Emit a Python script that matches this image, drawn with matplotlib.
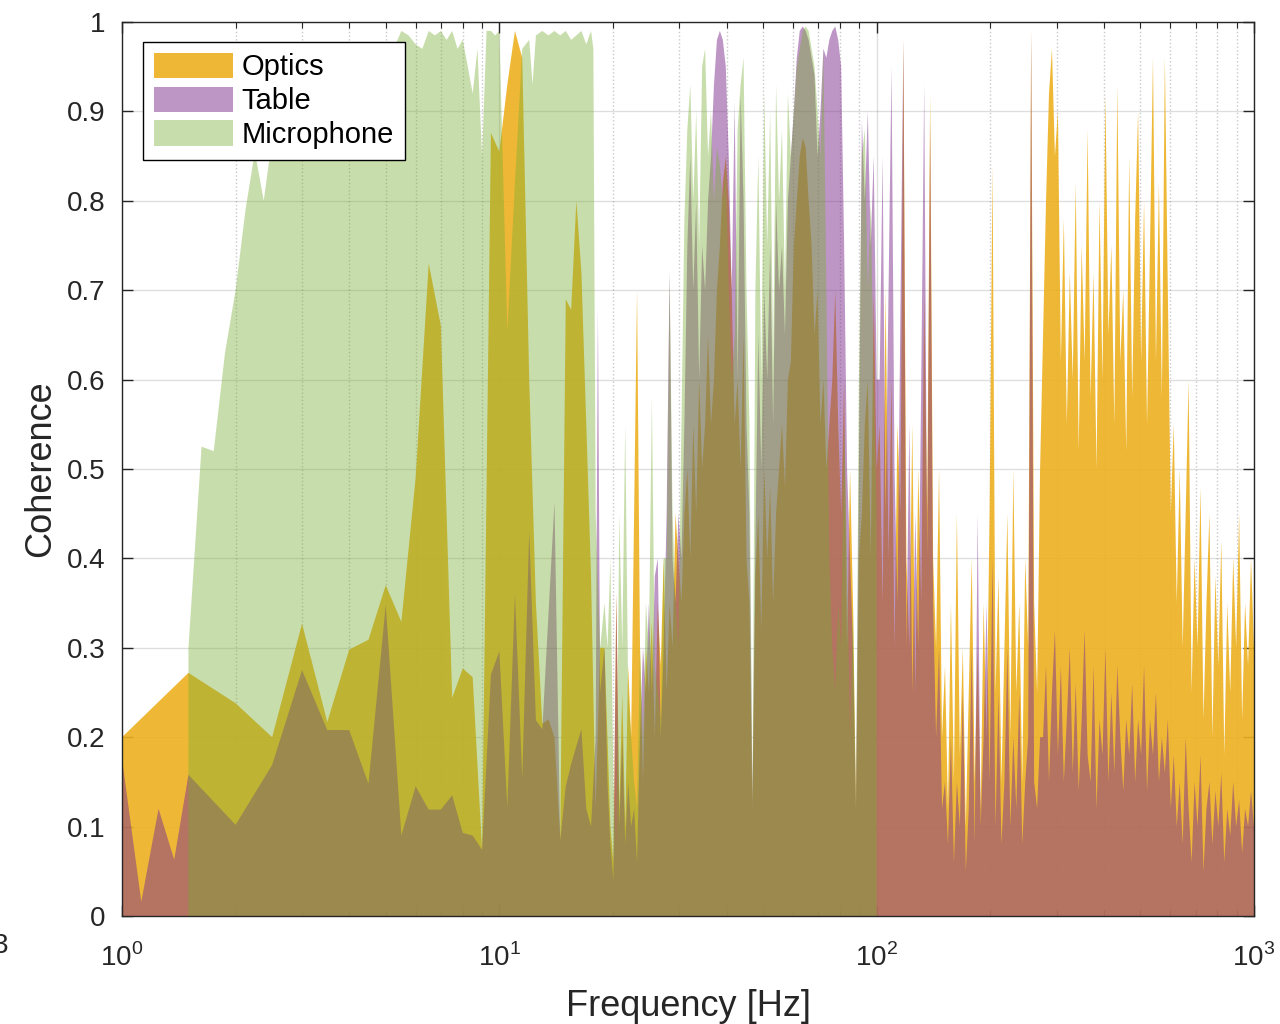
import numpy as np
import matplotlib
matplotlib.use('Agg')
import matplotlib.pyplot as plt
from matplotlib.ticker import FixedLocator, LogLocator, NullFormatter

plt.rcParams['font.family'] = ['Liberation Sans', 'DejaVu Sans']
plt.rcParams['mathtext.fontset'] = 'custom'
plt.rcParams['mathtext.rm'] = 'Liberation Sans'

# --- coherence data ---------------------------------------------------------
# low band (read vertex by vertex)
optics_lo_f = np.arange(1.0, 19.0, 0.5)
optics_lo = [0.20, 0.272, 0.238, 0.20, 0.327, 0.217, 0.298, 0.309, 0.37, 0.329,
             0.49, 0.73, 0.66, 0.244, 0.277, 0.267, 0.074, 0.876, 0.855, 0.93,
             0.99, 0.96, 0.60, 0.35, 0.215, 0.22, 0.20, 0.087, 0.69, 0.678,
             0.80, 0.72, 0.55, 0.38, 0.12, 0.30]

table_lo_f = [1.0, 1.125, 1.25, 1.375, 1.5, 2.0, 2.5, 3.0, 3.5, 4.0, 4.5, 5.0,
              5.5, 6.0, 6.5, 7.0, 7.5, 8.0, 8.5, 9.0, 9.5, 10.0, 10.5, 11.0,
              11.5, 12.0, 12.5, 13.0, 14.0, 14.5, 15.0, 15.5, 16.0, 16.5,
              17.0, 17.5, 18.0, 18.25, 18.5]
table_lo = [0.176, 0.016, 0.12, 0.063, 0.158, 0.102, 0.169, 0.275, 0.208, 0.208,
            0.148, 0.348, 0.09, 0.145, 0.119, 0.119, 0.135, 0.093, 0.09, 0.074,
            0.27, 0.296, 0.122, 0.36, 0.154, 0.43, 0.219, 0.209, 0.463, 0.084,
            0.145, 0.17, 0.19, 0.209, 0.12, 0.10, 0.20, 0.68, 0.25]

mic_lo_f = [1.5, 1.625, 1.75, 1.875, 2.0, 2.125, 2.25, 2.375, 2.5, 2.75, 3.0,
            3.5, 4.0, 4.5, 5.0, 5.25, 5.5, 5.75, 6.0, 6.25, 6.5, 6.75, 7.0,
            7.25, 7.5, 7.75, 8.0, 8.25, 8.5, 8.75, 9.0, 9.25, 9.5, 9.75, 10.0,
            10.5, 11.0, 11.5, 12.0, 12.25, 12.5, 13.0, 13.5, 14.0, 14.5, 15.0,
            15.5, 16.0, 16.5, 17.0, 17.5, 17.75, 18.0, 18.5]
mic_lo = [0.30, 0.525, 0.52, 0.63, 0.70, 0.79, 0.855, 0.80, 0.87, 0.90, 0.93,
          0.92, 0.95, 0.94, 0.96, 0.97, 0.99, 0.985, 0.975, 0.97, 0.99, 0.985,
          0.99, 0.98, 0.99, 0.97, 0.98, 0.95, 0.92, 0.97, 0.85, 0.99, 0.99,
          0.985, 0.99, 0.655, 0.82, 0.97, 0.98, 0.93, 0.985, 0.99, 0.985, 0.99,
          0.985, 0.99, 0.98, 0.985, 0.99, 0.975, 0.99, 0.97, 0.45, 0.30]

# 19-100 Hz, log spaced
freq_mid = np.geomspace(19, 100, 93)
optics_mid = [0.30, 0.20, 0.10, 0.06, 0.36, 0.12, 0.25, 0.10, 0.28, 0.20,
              0.45, 0.70, 0.30, 0.15, 0.30, 0.25, 0.33, 0.20, 0.35, 0.28,
              0.40, 0.25, 0.35, 0.30, 0.45, 0.40, 0.35, 0.45, 0.50, 0.40,
              0.55, 0.45, 0.60, 0.50, 0.55, 0.65, 0.55, 0.60, 0.70, 0.75,
              0.82, 0.85, 0.80, 0.70, 0.55, 0.60, 0.50, 0.65, 0.40, 0.35,
              0.12, 0.38, 0.45, 0.32, 0.50, 0.40, 0.48, 0.35, 0.45, 0.50,
              0.55, 0.48, 0.60, 0.62, 0.75, 0.80, 0.85, 0.87, 0.86, 0.80,
              0.75, 0.65, 0.70, 0.55, 0.60, 0.50, 0.55, 0.60, 0.70, 0.55,
              0.45, 0.60, 0.30, 0.50, 0.35, 0.12, 0.40, 0.45, 0.55, 0.60,
              0.40, 0.70, 0.50]
table_mid = [0.30, 0.15, 0.08, 0.04, 0.36, 0.10, 0.20, 0.08, 0.15, 0.10,
             0.12, 0.06, 0.20, 0.30, 0.25, 0.35, 0.25, 0.38, 0.40, 0.20,
             0.30, 0.45, 0.72, 0.40, 0.35, 0.45, 0.40, 0.55, 0.75, 0.85,
             0.70, 0.80, 0.60, 0.75, 0.70, 0.80, 0.85, 0.93, 0.98, 0.99,
             0.98, 0.95, 0.85, 0.70, 0.91, 0.60, 0.92, 0.80, 0.55, 0.45,
             0.13, 0.42, 0.65, 0.50, 0.70, 0.60, 0.75, 0.55, 0.80, 0.70,
             0.75, 0.65, 0.80, 0.85, 0.90, 0.96, 0.99, 0.995, 0.99, 0.98,
             0.96, 0.94, 0.85, 0.90, 0.97, 0.96, 0.98, 0.99, 0.995, 0.98,
             0.95, 0.75, 0.50, 0.40, 0.30, 0.12, 0.50, 0.89, 0.80, 0.90,
             0.75, 0.85, 0.60]
mic_mid = [0.35, 0.30, 0.40, 0.15, 0.08, 0.45, 0.30, 0.55, 0.25, 0.20,
           0.15, 0.12, 0.30, 0.20, 0.35, 0.30, 0.58, 0.28, 0.25, 0.22,
           0.40, 0.40, 0.72, 0.45, 0.35, 0.30, 0.55, 0.78, 0.88, 0.93,
           0.80, 0.90, 0.75, 0.95, 0.97, 0.85, 0.90, 0.80, 0.86, 0.84,
           0.80, 0.84, 0.70, 0.60, 0.65, 0.88, 0.93, 0.96, 0.70, 0.55,
           0.13, 0.70, 0.85, 0.60, 0.92, 0.75, 0.90, 0.62, 0.93, 0.80,
           0.88, 0.70, 0.92, 0.85, 0.90, 0.95, 0.97, 0.99, 0.995, 0.99,
           0.97, 0.95, 0.90, 0.85, 0.97, 0.70, 0.40, 0.30, 0.25, 0.35,
           0.30, 0.55, 0.40, 0.20, 0.35, 0.13, 0.60, 0.85, 0.88, 0.70,
           0.80, 0.60, 0.45]

# 100-1000 Hz, log spaced (microphone stops at 100 Hz)
freq_high = np.geomspace(100, 1000, 128)[1:]
optics_high = [0.55, 0.35, 0.70, 0.40, 0.60, 0.30, 0.55, 0.45, 0.98, 0.40,
               0.30, 0.55, 0.25, 0.50, 0.35, 0.70, 0.45, 0.92, 0.40, 0.30,
               0.50, 0.20, 0.28, 0.12, 0.35, 0.15, 0.45, 0.18, 0.30, 0.10,
               0.25, 0.40, 0.15, 0.30, 0.12, 0.35, 0.20, 0.45, 0.84, 0.25,
               0.38, 0.15, 0.30, 0.45, 0.20, 0.50, 0.25, 0.35, 0.15, 0.40,
               0.30, 0.99, 0.35, 0.25, 0.50, 0.65, 0.80, 0.92, 0.97, 0.85,
               0.90, 0.62, 0.78, 0.55, 0.72, 0.60, 0.82, 0.52, 0.75, 0.62,
               0.88, 0.58, 0.72, 0.50, 0.80, 0.60, 0.92, 0.65, 0.75, 0.55,
               0.93, 0.62, 0.70, 0.52, 0.85, 0.58, 0.78, 0.90, 0.62, 0.80,
               0.55, 0.75, 0.96, 0.62, 0.82, 0.58, 0.96, 0.70, 0.45, 0.55,
               0.35, 0.50, 0.30, 0.45, 0.60, 0.25, 0.40, 0.30, 0.48, 0.22,
               0.35, 0.45, 0.20, 0.38, 0.28, 0.42, 0.18, 0.35, 0.25, 0.40,
               0.30, 0.45, 0.22, 0.35, 0.28, 0.40, 0.30]
table_high = [0.60, 0.85, 0.45, 0.70, 0.95, 0.50, 0.35, 0.68, 0.98, 0.30,
              0.55, 0.25, 0.45, 0.30, 0.60, 0.93, 0.40, 0.89, 0.35, 0.20,
              0.30, 0.12, 0.15, 0.08, 0.20, 0.06, 0.15, 0.10, 0.25, 0.05,
              0.12, 0.30, 0.08, 0.45, 0.10, 0.20, 0.35, 0.15, 0.40, 0.10,
              0.25, 0.08, 0.15, 0.30, 0.10, 0.20, 0.12, 0.25, 0.08, 0.15,
              0.20, 0.99, 0.15, 0.12, 0.20, 0.20, 0.28, 0.15, 0.25, 0.32,
              0.18, 0.28, 0.15, 0.22, 0.30, 0.16, 0.26, 0.14, 0.22, 0.32,
              0.18, 0.15, 0.28, 0.12, 0.22, 0.18, 0.30, 0.15, 0.25, 0.16,
              0.28, 0.20, 0.14, 0.22, 0.18, 0.26, 0.15, 0.22, 0.18, 0.28,
              0.14, 0.22, 0.18, 0.25, 0.15, 0.20, 0.16, 0.22, 0.12, 0.18,
              0.10, 0.15, 0.08, 0.20, 0.12, 0.06, 0.15, 0.10, 0.18, 0.05,
              0.12, 0.15, 0.08, 0.14, 0.10, 0.16, 0.06, 0.12, 0.09, 0.15,
              0.10, 0.13, 0.07, 0.12, 0.10, 0.14, 0.10]

series = [
    ('Optics', np.concatenate([optics_lo_f, freq_mid, freq_high]),
     np.concatenate([optics_lo, optics_mid, optics_high]), '#EDB120', 0.9),
    ('Table', np.concatenate([table_lo_f, freq_mid, freq_high]),
     np.concatenate([table_lo, table_mid, table_high]), '#7E2F8E', 0.5),
    ('Microphone', np.concatenate([mic_lo_f, freq_mid]),
     np.concatenate([mic_lo, mic_mid]), '#77AC30', 0.4),
]

ink = '#262626'

fig = plt.figure(figsize=(12.8, 10.24), dpi=100)
ax = fig.add_axes([122 / 1280, 1 - 916 / 1024, 1132 / 1280, 894 / 1024])

for name, f, c, color, alpha in series:
    ax.fill_between(f, 0, c, facecolor=color, alpha=alpha, linewidth=0, label=name)

ax.set_xscale('log')
ax.set_xlim(1, 1000)
ax.set_ylim(0, 1)

yt = np.round(np.arange(0, 1.01, 0.1), 1)
ax.yaxis.set_major_locator(FixedLocator(yt))
ax.set_yticklabels(['0' if v == 0 else ('1' if v == 1 else f'{v:g}') for v in yt])
ax.xaxis.set_major_locator(FixedLocator([1, 10, 100, 1000]))
ax.xaxis.set_minor_locator(LogLocator(base=10, subs=np.arange(2, 10), numticks=20))
ax.xaxis.set_minor_formatter(NullFormatter())
ax.set_xticklabels([r'$10^0$', r'$10^1$', r'$10^2$', r'$10^3$'])

ax.set_axisbelow(True)
ax.grid(True, which='major', color=ink, alpha=0.15, linewidth=1)
ax.grid(True, which='minor', axis='x', color=ink, alpha=0.25, linestyle=':', linewidth=1)

ax.tick_params(which='both', direction='in', top=True, right=True, colors=ink,
               labelsize=20)
ax.tick_params(which='major', length=8, width=1)
ax.tick_params(axis='y', which='major', pad=12)
ax.tick_params(axis='x', which='major', pad=20)
ax.tick_params(which='minor', length=4, width=0.8)
for s in ax.spines.values():
    s.set_color(ink)
    s.set_linewidth(1)

ax.set_xlabel('Frequency [Hz]', fontsize=26, color=ink, labelpad=12)
ax.set_ylabel('Coherence', fontsize=26, color=ink, labelpad=6)

leg = ax.legend(loc='upper left', bbox_to_anchor=(0.0186, 0.978), borderaxespad=0,
                fontsize=21, frameon=True, fancybox=False, edgecolor='black',
                handlelength=2.7, handleheight=0.95, handletextpad=0.3,
                labelspacing=0.18, borderpad=0.38)
leg.get_frame().set_linewidth(1)
leg.get_frame().set_alpha(1)

# clipped exponent of the neighbouring panel's tick label
fig.text(1 / 1280, 1 - 946 / 1024, '3', fontsize=20, color=ink, ha='center', va='center')

fig.savefig('out.png', dpi=100)
